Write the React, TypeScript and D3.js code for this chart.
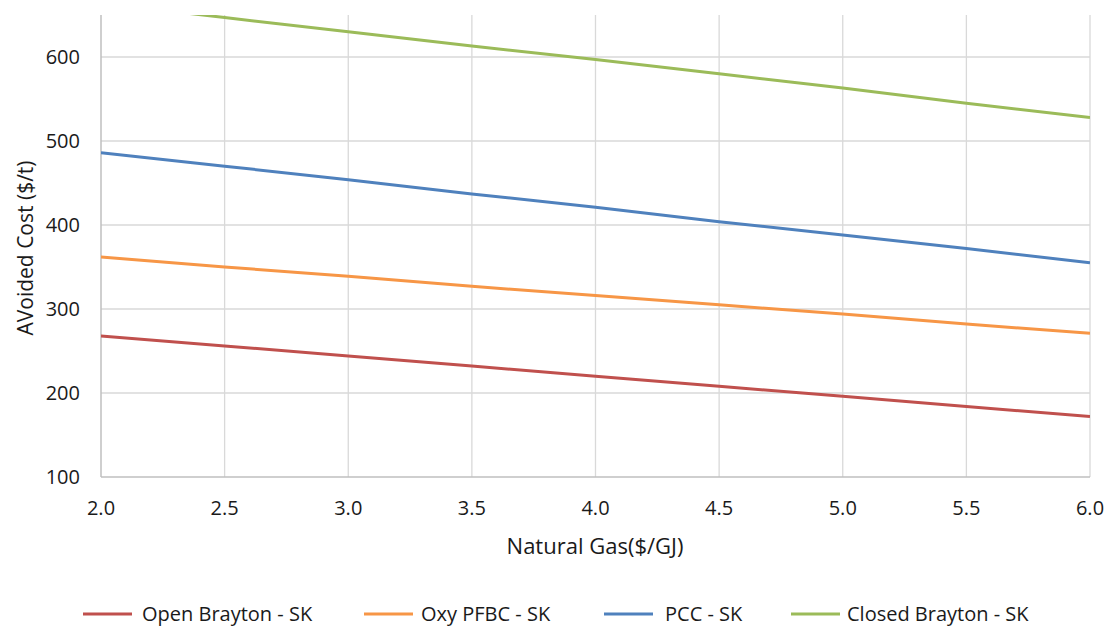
import React from "react";
import * as d3 from "d3";

const gasPrices = [2.0, 2.5, 3.0, 3.5, 4.0, 4.5, 5.0, 5.5, 6.0];
const openBrayton = [268, 256, 244, 232, 220, 208, 196, 184, 172];
const oxyPFBC = [362, 350, 339, 327, 316, 305, 294, 282, 271];
const pcc = [486, 470, 454, 437, 421, 404, 388, 372, 355];
const closedBrayton = [664, 647, 630, 613, 597, 580, 563, 545, 528];

const seriesNames = ["Open Brayton - SK", "Oxy PFBC - SK", "PCC - SK", "Closed Brayton - SK"];
const seriesColors = ["#c0504d", "#f79646", "#4f81bd", "#9bbb59"];
const seriesValues = [openBrayton, oxyPFBC, pcc, closedBrayton];

const xTicks = [2.0, 2.5, 3.0, 3.5, 4.0, 4.5, 5.0, 5.5, 6.0];
const yTicks = [100, 200, 300, 400, 500, 600];

const W = 1112;
const H = 628;
const M = { left: 101, right: 1090, top: 15, bottom: 477 };
const FONT = "'Open Sans', sans-serif";

export default function App() {
  const x = d3.scaleLinear().domain([2, 6]).range([M.left, M.right]);
  const y = d3.scaleLinear().domain([100, 650]).range([M.bottom, M.top]);
  const line = d3
    .line<number>()
    .x((_, i) => x(gasPrices[i]))
    .y((d) => y(d));

  const legendItems = [
    { lx: 83, tx: 142 },
    { lx: 364, tx: 421 },
    { lx: 604, tx: 665 },
    { lx: 791, tx: 847 },
  ];

  return (
    <svg
      width={W}
      height={H}
      style={{ position: "absolute", left: 0, top: 0, background: "#fff" }}
      fontFamily={FONT}
    >
      <defs>
        <clipPath id="plotClip">
          <rect x={M.left} y={M.top} width={M.right - M.left} height={M.bottom - M.top} />
        </clipPath>
      </defs>
      {/* gridlines */}
      {yTicks.slice(1).map((t) => (
        <line key={"gy" + t} x1={M.left} x2={M.right} y1={y(t)} y2={y(t)} stroke="#d9d9d9" strokeWidth={1.3} />
      ))}
      {xTicks.slice(1).map((t) => (
        <line key={"gx" + t} x1={x(t)} x2={x(t)} y1={M.top} y2={M.bottom} stroke="#d9d9d9" strokeWidth={1.3} />
      ))}
      {/* axes */}
      <line x1={M.left} x2={M.left} y1={M.top} y2={M.bottom} stroke="#bfbfbf" strokeWidth={1.5} />
      <line x1={M.left} x2={M.right} y1={M.bottom} y2={M.bottom} stroke="#bfbfbf" strokeWidth={1.5} />
      {/* series */}
      <g clipPath="url(#plotClip)">
        {seriesValues.map((vals, i) => (
          <path key={seriesNames[i]} d={line(vals) || ""} fill="none" stroke={seriesColors[i]} strokeWidth={3} />
        ))}
      </g>
      {/* y tick labels */}
      {yTicks.map((t) => (
        <text key={"ty" + t} x={80} y={y(t)} dy="0.35em" textAnchor="end" fontSize={20} fill="#1a1a1a">
          {t}
        </text>
      ))}
      {/* x tick labels */}
      {xTicks.map((t) => (
        <text key={"tx" + t} x={x(t)} y={515} textAnchor="middle" fontSize={20} fill="#1a1a1a">
          {t.toFixed(1)}
        </text>
      ))}
      {/* axis titles */}
      <text x={595} y={554} textAnchor="middle" fontSize={22} fill="#1a1a1a">
        Natural Gas($/GJ)
      </text>
      <text
        transform={`translate(33, 248) rotate(-90)`}
        textAnchor="middle"
        fontSize={21}
        fill="#1a1a1a"
      >
        AVoided Cost ($/t)
      </text>
      {/* legend */}
      {seriesNames.map((name, i) => (
        <g key={"lg" + name}>
          <line
            x1={legendItems[i].lx}
            x2={legendItems[i].lx + 49}
            y1={614}
            y2={614}
            stroke={seriesColors[i]}
            strokeWidth={3}
          />
          <text x={legendItems[i].tx} y={614} dy="0.35em" fontSize={20} fill="#1a1a1a">
            {name}
          </text>
        </g>
      ))}
    </svg>
  );
}
